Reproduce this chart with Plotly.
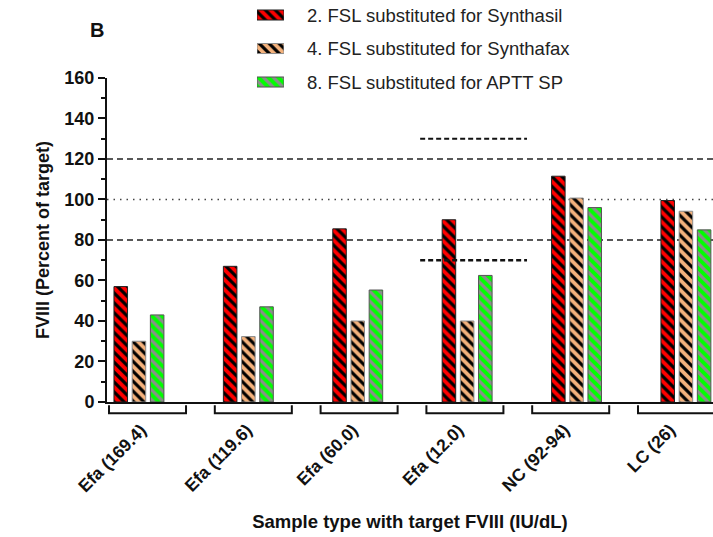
import plotly.graph_objects as go

categories = ["Efa (169.4)", "Efa (119.6)", "Efa (60.0)", "Efa (12.0)", "NC (92-94)", "LC (26)"]
series_names = ["2. FSL substituted for Synthasil",
                "4. FSL substituted for Synthafax",
                "8. FSL substituted for APTT SP"]
synthasil = [57, 67, 85.5, 90, 111.5, 99.5]
synthafax = [30, 32.3, 40, 40, 100.7, 94.2]
apttsp = [43, 47, 55.3, 62.5, 96, 85]
values = [synthasil, synthafax, apttsp]

y_ticks = [0, 20, 40, 60, 80, 100, 120, 140, 160]
limit_lines = [120, 80]        # dashed
target_line = 100              # dotted
efa12_limits = [130, 70]       # short dashed lines over Efa (12.0)
efa12_index = 3

# styles
fills = ["#FF0000", "#F4B27C", "#00FF00"]
stripes = ["#000000", "#000000", "#8C8C8C"]
outlines = ["#222222", "#8C8C8C", "#555555"]

GROUP_STEP = 1.034   # bar groups drift slightly vs. bracket spacing (as in original)
SLOT = 0.172
BAR_W = 0.128
FIRST_OFF = -0.317

FONT = "Liberation Sans, Arial, sans-serif"
TXT = "#111"

fig = go.Figure()
xs = [i * GROUP_STEP for i in range(len(categories))]
for s, (name, vals) in enumerate(zip(series_names, values)):
    pat = dict(shape="\\", fgcolor=stripes[s], bgcolor=fills[s], size=7, solidity=0.45, fillmode="replace")
    fig.add_trace(go.Bar(
        x=xs, y=vals, name=name, showlegend=False,
        offset=FIRST_OFF + s * SLOT, width=BAR_W,
        marker=dict(color=fills[s], line=dict(color=outlines[s], width=1), pattern=pat),
        xaxis="x", yaxis="y",
    ))
    # legend swatch (drawn on a small helper axis at the top)
    fig.add_trace(go.Bar(
        x=[1], y=[s], orientation="h", width=0.3, showlegend=False, hoverinfo="skip",
        marker=dict(color=fills[s], line=dict(color=outlines[s], width=1), pattern=pat),
        xaxis="x2", yaxis="y2",
    ))

shapes = []
for yv in limit_lines:
    shapes.append(dict(type="line", xref="x domain", yref="y", x0=0, x1=1, y0=yv, y1=yv,
                       line=dict(color="#222", width=1.6, dash="6px,4px"), layer="below"))
shapes.append(dict(type="line", xref="x domain", yref="y", x0=0, x1=1, y0=target_line, y1=target_line,
                   line=dict(color="#444", width=1.4, dash="1.5px,5px"), layer="below"))
cx = efa12_index * GROUP_STEP - 0.02
for yv, w in zip(efa12_limits, [1.8, 2.6]):
    shapes.append(dict(type="line", xref="x", yref="y", x0=cx - 0.505, x1=cx + 0.505, y0=yv, y1=yv,
                       line=dict(color="#111", width=w, dash="5px,3px")))
# group brackets under the axis
for i in range(len(categories)):
    shapes.append(dict(type="path", xref="x", yref="y domain",
                       path=f"M {i-0.364},-0.01 L {i-0.364},-0.035 L {i+0.364},-0.035 L {i+0.364},-0.01",
                       line=dict(color="#111", width=2)))

annotations = [dict(text="B", xref="paper", yref="paper", x=-0.0165, y=(402 - 30) / 402,
                    xanchor="center", yanchor="middle",
                    showarrow=False, font=dict(size=20, family=FONT, weight="bold", color=TXT))]
for s, name in enumerate(series_names):
    annotations.append(dict(text=name, xref="paper", yref="y2", x=0.326, y=s, xanchor="left",
                            yanchor="middle", showarrow=False,
                            font=dict(size=18.5, family=FONT, color="#222")))

fig.update_layout(
    width=713, height=537,
    margin=dict(l=107, r=0, t=0, b=135, autoexpand=False),
    paper_bgcolor="white", plot_bgcolor="white",
    font=dict(family=FONT, color=TXT),
    barmode="overlay",
    showlegend=False,
    shapes=shapes,
    annotations=annotations,
    xaxis=dict(range=[-0.383, 5.345], tickvals=[i - 0.06 for i in range(len(categories))],
               ticktext=categories, automargin=False,
               tickangle=-45, ticks="", showline=True, linecolor=TXT, linewidth=2,
               showgrid=False, zeroline=False, ticklabelstandoff=9,
               tickfont=dict(size=17.5, family=FONT, weight="bold", color=TXT),
               title=dict(text="Sample type with target FVIII (IU/dL)", standoff=20,
                          font=dict(size=18.5, family=FONT, weight="bold", color=TXT))),
    yaxis=dict(domain=[0, 0.806], range=[0, 160], tickvals=y_ticks, ticks="outside", ticklen=7, tickwidth=2,
               tickcolor=TXT, showline=True, linecolor=TXT, linewidth=2, automargin=False,
               showgrid=False, zeroline=False,
               minor=dict(dtick=10, ticks="outside", ticklen=4, tickwidth=2, tickcolor=TXT, showgrid=False),
               tickfont=dict(size=18, family=FONT, weight="bold", color=TXT),
               title=dict(text="FVIII (Percent of target)", standoff=10,
                          font=dict(size=18, family=FONT, weight="bold", color=TXT))),
    xaxis2=dict(domain=[0.2475, 0.292], range=[0, 1], anchor="y2", visible=False, fixedrange=True),
    yaxis2=dict(domain=[0.746, 0.996], range=[2.6, -0.4], anchor="x2", visible=False, fixedrange=True),
)

fig.write_html("out.html")
